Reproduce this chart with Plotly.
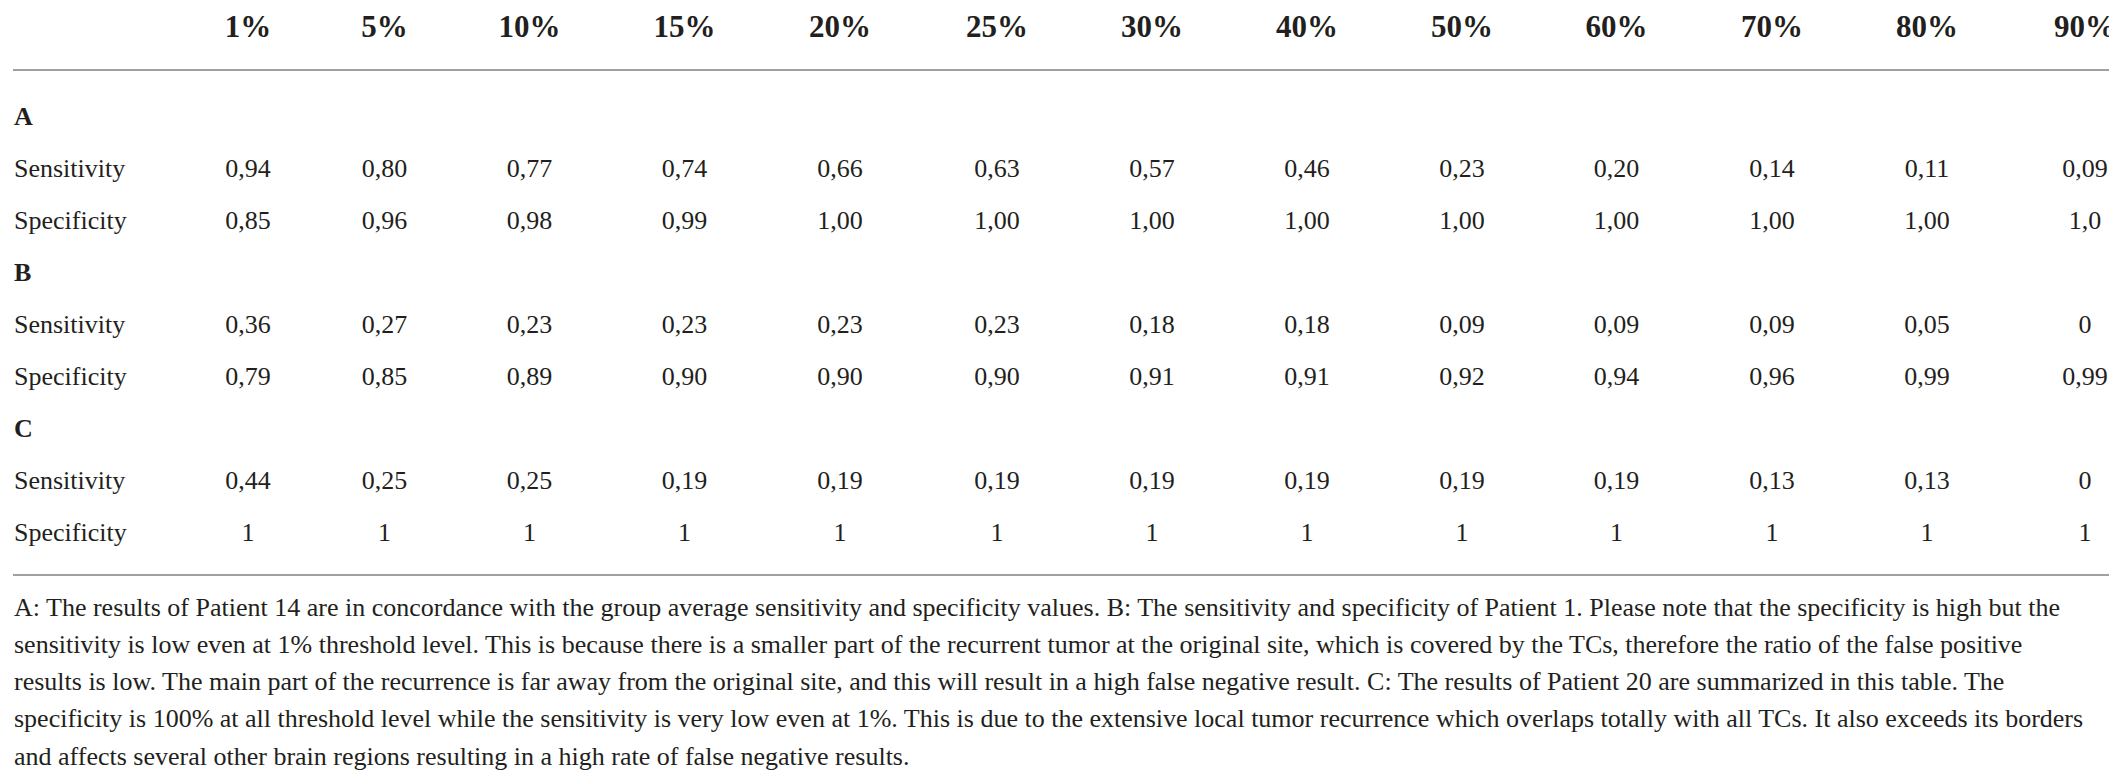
import plotly.graph_objects as go

# seuils (colonnes du tableau)
thresholds = ["1%", "5%", "10%", "15%", "20%", "25%", "30%", "40%", "50%", "60%", "70%", "80%", "90%"]

# A : patient 14
a_sensitivity = ["0,94", "0,80", "0,77", "0,74", "0,66", "0,63", "0,57", "0,46", "0,23", "0,20", "0,14", "0,11", "0,09"]
a_specificity = ["0,85", "0,96", "0,98", "0,99", "1,00", "1,00", "1,00", "1,00", "1,00", "1,00", "1,00", "1,00", "1,0"]

# B : patient 1
b_sensitivity = ["0,36", "0,27", "0,23", "0,23", "0,23", "0,23", "0,18", "0,18", "0,09", "0,09", "0,09", "0,05", "0"]
b_specificity = ["0,79", "0,85", "0,89", "0,90", "0,90", "0,90", "0,91", "0,91", "0,92", "0,94", "0,96", "0,99", "0,99"]

# C : patient 20
c_sensitivity = ["0,44", "0,25", "0,25", "0,19", "0,19", "0,19", "0,19", "0,19", "0,19", "0,19", "0,13", "0,13", "0"]
c_specificity = ["1", "1", "1", "1", "1", "1", "1", "1", "1", "1", "1", "1", "1"]

groups = ["A", "B", "C"]
row_labels = ["Sensitivity", "Specificity"]

footnote_lines = [
    "A: The results of Patient 14 are in concordance with the group average sensitivity and specificity values. B: The sensitivity and specificity of Patient 1. Please note that the specificity is high but the",
    "sensitivity is low even at 1% threshold level. This is because there is a smaller part of the recurrent tumor at the original site, which is covered by the TCs, therefore the ratio of the false positive",
    "results is low. The main part of the recurrence is far away from the original site, and this will result in a high false negative result. C: The results of Patient 20 are summarized in this table. The",
    "specificity is 100% at all threshold level while the sensitivity is very low even at 1%. This is due to the extensive local tumor recurrence which overlaps totally with all TCs. It also exceeds its borders",
    "and affects several other brain regions resulting in a high rate of false negative results.",
]

FONT = "Liberation Serif"
INK = "#231f20"
W, H = 2117, 770

# mise en page du tableau (px) : largeur de la colonne des libellés puis des colonnes de seuils
label_col_width = 172
col_widths = [136, 137, 153, 157, 154, 160, 150, 160, 150, 159, 152, 158, 158]
col_centers = []
left = label_col_width
for w in col_widths:
    col_centers.append(left + w / 2)
    left += w

label_x = 6
header_y = 21
top_rule_y, bottom_rule_y = 62, 567
row_y0, row_step = 110, 52
foot_y0, foot_step = 601, 37.3

series = [(a_sensitivity, a_specificity), (b_sensitivity, b_specificity), (c_sensitivity, c_specificity)]

fig = go.Figure()

# en-tête
fig.add_trace(go.Scatter(
    x=col_centers, y=[header_y] * len(thresholds),
    mode="text", text=[f"<b>{t}</b>" for t in thresholds],
    textposition="middle center",
    textfont=dict(family=FONT, size=31, color=INK),
    hoverinfo="skip", showlegend=False, cliponaxis=False,
))

label_rows, label_texts = [], []
for g, name in enumerate(groups):
    base = g * 3
    label_rows.append(row_y0 + base * row_step)
    label_texts.append(f"<b>{name}</b>")
    for k, values in enumerate(series[g]):
        y = row_y0 + (base + 1 + k) * row_step
        label_rows.append(y)
        label_texts.append(row_labels[k])
        fig.add_trace(go.Scatter(
            x=col_centers, y=[y] * len(values),
            mode="text", text=values, textposition="middle center",
            textfont=dict(family=FONT, size=26, color=INK),
            hoverinfo="skip", showlegend=False,
        ))

fig.add_trace(go.Scatter(
    x=[label_x] * len(label_rows), y=label_rows,
    mode="text", text=label_texts, textposition="middle right",
    textfont=dict(family=FONT, size=26, color=INK),
    hoverinfo="skip", showlegend=False,
))

# note de bas de tableau
fig.add_trace(go.Scatter(
    x=[label_x] * len(footnote_lines),
    y=[foot_y0 + i * foot_step for i in range(len(footnote_lines))],
    mode="text", text=footnote_lines, textposition="middle right",
    textfont=dict(family=FONT, size=26, color=INK),
    hoverinfo="skip", showlegend=False,
))

for y in [top_rule_y, bottom_rule_y]:
    fig.add_shape(type="line", x0=5, x1=2112, y0=y, y1=y,
                  line=dict(color="#a0a0a0", width=2))

fig.update_layout(
    width=W, height=H,
    margin=dict(l=0, r=0, t=0, b=0),
    paper_bgcolor="white", plot_bgcolor="white",
    xaxis=dict(range=[0, W], visible=False, fixedrange=True),
    yaxis=dict(range=[H, 0], visible=False, fixedrange=True),
)

fig.write_html("out.html")
